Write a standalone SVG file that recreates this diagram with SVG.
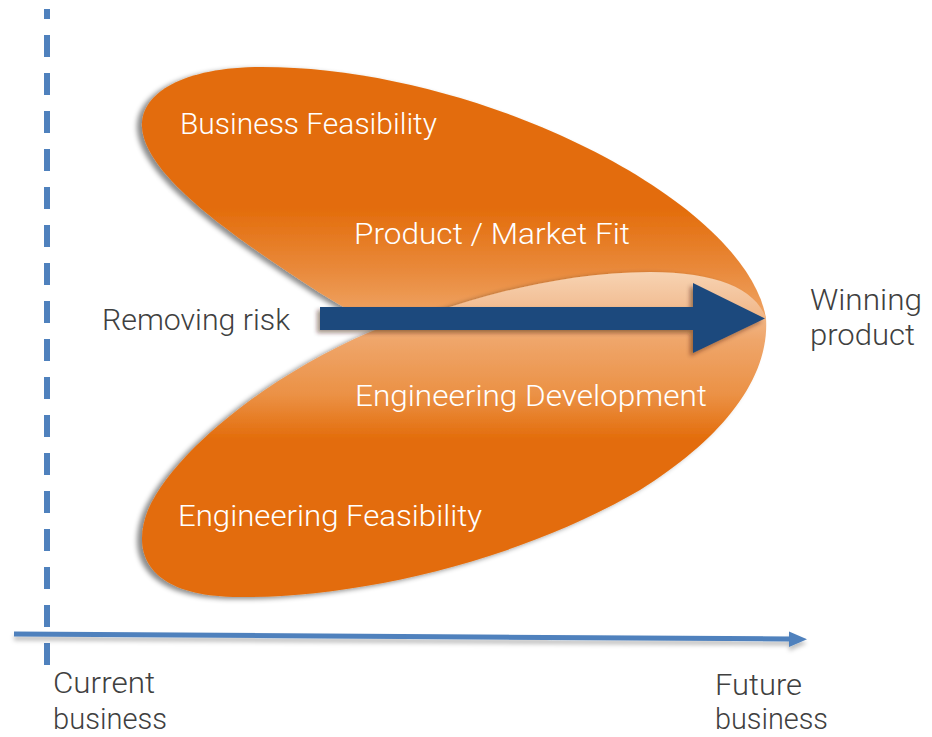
<svg xmlns="http://www.w3.org/2000/svg" width="932" height="737" viewBox="0 0 932 737">
  <defs>
    <style>
      .lbl { font-family: Roboto, "Open Sans", "Liberation Sans", sans-serif; font-weight: 300; font-size: 29.5px; }
      .white { fill: #ffffff; }
      .grey { fill: #404040; }
    </style>
    <linearGradient id="gradUpper" gradientUnits="userSpaceOnUse" x1="0" y1="67" x2="0" y2="322">
      <stop offset="0" stop-color="#E36C0A"/>
      <stop offset="0.55" stop-color="#E36C0A"/>
      <stop offset="0.8" stop-color="#E98A3C"/>
      <stop offset="1" stop-color="#F0A769"/>
    </linearGradient>
    <linearGradient id="gradLower" gradientUnits="userSpaceOnUse" x1="0" y1="272" x2="0" y2="445">
      <stop offset="0" stop-color="#F7D3B2"/>
      <stop offset="0.16" stop-color="#F3C29A"/>
      <stop offset="0.39" stop-color="#EFA66B"/>
      <stop offset="0.71" stop-color="#EB9145"/>
      <stop offset="0.97" stop-color="#E36C0A"/>
    </linearGradient>
    <filter id="lobeShadow" x="-10%" y="-10%" width="120%" height="120%">
      <feDropShadow dx="-5" dy="2" stdDeviation="2.5" flood-color="#000000" flood-opacity="0.45"/>
    </filter>
    <filter id="arrowShadow" x="-10%" y="-30%" width="120%" height="160%">
      <feDropShadow dx="-3" dy="3" stdDeviation="2" flood-color="#3a1a00" flood-opacity="0.45"/>
    </filter>
    <filter id="axisShadow" x="-5%" y="-200%" width="110%" height="500%">
      <feDropShadow dx="0" dy="4" stdDeviation="2" flood-color="#000000" flood-opacity="0.25"/>
    </filter>
  </defs>

  <g id="current-business-boundary">
    <line x1="47" y1="9" x2="47" y2="666" stroke="#4F81BD" stroke-width="6" stroke-dasharray="22 16" stroke-dashoffset="12"/>
  </g>

  <g id="upper-lobe">
    <path d="M 766,318 C 745,200 480,67 262,67 C 180,67 140,95 142,127 C 145,175 230,235 320,293 C 345,308 365,320 390,330 L 766,330 Z" fill="url(#gradUpper)" filter="url(#lobeShadow)"/>
    <text class="lbl white" x="180" y="134" textLength="257" lengthAdjust="spacingAndGlyphs">Business Feasibility</text>
    <text class="lbl white" x="354" y="244" textLength="276" lengthAdjust="spacingAndGlyphs">Product / Market Fit</text>
  </g>

  <g id="lower-lobe">
    <path d="M 766,318 C 755,288 715,272 650,272 C 580,272 510,288 453,306 C 420,316 395,322 370,332 C 270,375 175,450 148,510 C 130,555 150,597 240,597 C 360,598 520,560 640,490 C 720,440 770,380 766,318 Z" fill="url(#gradLower)" filter="url(#lobeShadow)"/>
    <text class="lbl white" x="355" y="406" textLength="352" lengthAdjust="spacingAndGlyphs">Engineering Development</text>
    <text class="lbl white" x="178" y="526" textLength="304" lengthAdjust="spacingAndGlyphs">Engineering Feasibility</text>
  </g>

  <g id="connectors">
    <polygon id="removing-risk-arrow" points="320,307 693,307 693,283 765,318.5 693,353 693,330 320,330" fill="#1F497D" filter="url(#arrowShadow)"/>
    <g id="time-axis" filter="url(#axisShadow)">
      <line x1="14" y1="634" x2="791" y2="639" stroke="#4F81BD" stroke-width="5"/>
      <polygon points="789,631.5 807,639.3 789,647" fill="#4F81BD"/>
    </g>
  </g>

  <g id="removing-risk-label">
    <text class="lbl grey" x="102" y="330" textLength="188" lengthAdjust="spacingAndGlyphs">Removing risk</text>
  </g>

  <g id="winning-product-label">
    <text class="lbl grey" x="810" y="310" textLength="112" lengthAdjust="spacingAndGlyphs">Winning</text>
    <text class="lbl grey" x="810" y="345" textLength="105" lengthAdjust="spacingAndGlyphs">product</text>
  </g>

  <g id="current-business-label">
    <text class="lbl grey" x="53" y="693" textLength="102" lengthAdjust="spacingAndGlyphs">Current</text>
    <text class="lbl grey" x="53" y="729" textLength="114" lengthAdjust="spacingAndGlyphs">business</text>
  </g>

  <g id="future-business-label">
    <text class="lbl grey" x="715" y="695" textLength="87" lengthAdjust="spacingAndGlyphs">Future</text>
    <text class="lbl grey" x="715" y="729" textLength="113" lengthAdjust="spacingAndGlyphs">business</text>
  </g>
</svg>
